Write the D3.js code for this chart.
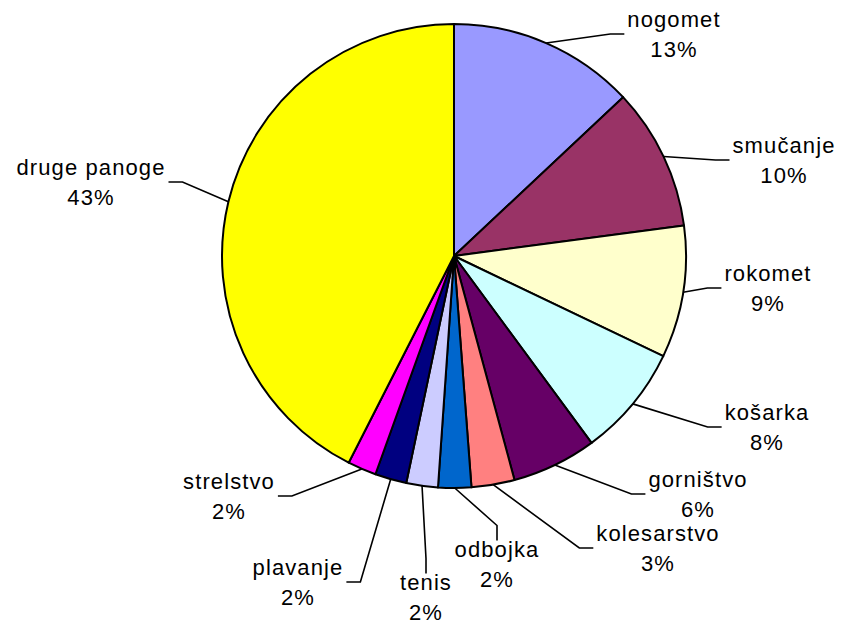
<!DOCTYPE html>
<html>
<head>
<meta charset="utf-8">
<script src="https://cdn.jsdelivr.net/npm/d3@7"></script>
<style>
  html, body { margin: 0; padding: 0; background: #fff; }
  svg { display: block; }
  text { font-family: "Liberation Sans", Arial, sans-serif; font-size: 22px; letter-spacing: 1.1px; fill: #000; }
</style>
</head>
<body>
<svg id="chart" width="843" height="624"></svg>
<script>
// Data
const categories = ["nogomet", "smučanje", "rokomet", "košarka", "gorništvo", "kolesarstvo",
                    "odbojka", "tenis", "plavanje", "strelstvo", "druge panoge"];
const values = [13, 9.9, 9.2, 7.8, 5.9, 3, 2.3, 2.2, 2.2, 2.0, 42.5];
const colors = ["#9999FF", "#993366", "#FFFFCC", "#CCFFFF", "#660066", "#FF8080",
                "#0066CC", "#CCCCFF", "#000080", "#FF00FF", "#FFFF00"];

// Label layout: [centerX, midY, side]
const labelLayout = [
  [674, 34, "r"], [784, 160, "r"], [768, 288, "r"], [767, 427, "r"],
  [698, 494, "r"], [658, 548, "r"], [497, 564, "b"], [426, 597, "b"],
  [298, 582, "l"], [229, 496, "l"], [91, 182, "l"]
];

const svg = d3.select("#chart");
const cx = 454, cy = 256, r = 232;
const g = svg.append("g").attr("transform", `translate(${cx},${cy})`);

const pie = d3.pie().sort(null).value(d => d.v);
const data = categories.map((c, i) => ({ c, v: values[i], col: colors[i], i }));
const arcs = pie(data);
const arc = d3.arc().innerRadius(0).outerRadius(r);

g.selectAll("path.slice").data(arcs).enter().append("path")
  .attr("class", "slice")
  .attr("d", arc)
  .attr("fill", d => d.data.col)
  .attr("stroke", "#000")
  .attr("stroke-width", 2)
  .attr("stroke-linejoin", "round");

const total = d3.sum(values);
const lh = 30;

arcs.forEach((d, i) => {
  const [lx, ly, side] = labelLayout[i];
  const lg = svg.append("g");
  lg.append("text").attr("x", lx).attr("y", ly - lh / 2).attr("text-anchor", "middle")
    .attr("dominant-baseline", "central").text(d.data.c);
  lg.append("text").attr("x", lx).attr("y", ly + lh / 2).attr("text-anchor", "middle")
    .attr("dominant-baseline", "central").text(Math.round(d.data.v / total * 100) + "%");
  const bb = lg.node().getBBox();
  const mid = (d.startAngle + d.endAngle) / 2;
  const ax = cx + r * Math.sin(mid), ay = cy - r * Math.cos(mid);
  let pts;
  if (side === "r") {
    const ex = bb.x - 3;
    pts = [[ax, ay], [ex - 14, ly], [ex, ly]];
  } else if (side === "l") {
    const ex = bb.x + bb.width + 3;
    pts = [[ax, ay], [ex + 14, ly], [ex, ly]];
  } else {
    const ey = bb.y + 4;
    pts = [[ax, ay], [lx, ey - 15], [lx, ey]];
  }
  svg.append("path").attr("d", d3.line()(pts))
    .attr("fill", "none").attr("stroke", "#000").attr("stroke-width", 1.6);
});
</script>
</body>
</html>
